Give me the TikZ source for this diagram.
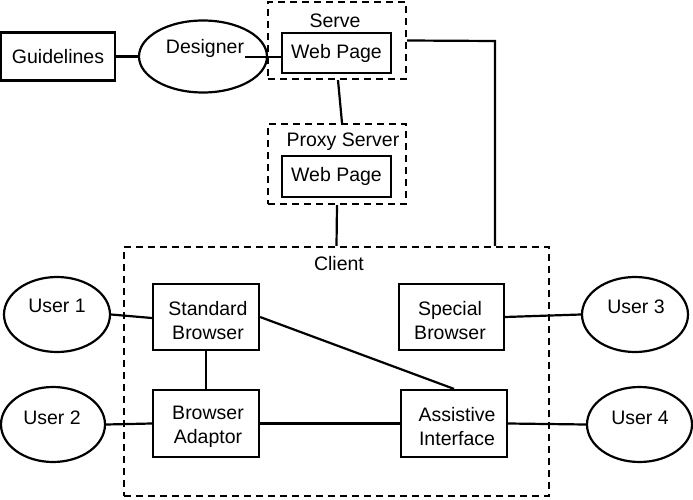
\documentclass[tikz,border=0pt]{standalone}
\usepackage{fontspec}
\setmainfont{Liberation Sans}
\usetikzlibrary{shapes.geometric,calc}
\begin{document}
\begin{tikzpicture}[x=1pt,y=-1pt,
  every node/.style={font=\fontsize{19.5}{24}\selectfont},
  box/.style={draw,line width=2.2pt,rectangle,inner sep=0pt,align=center},
  dbox/.style={draw,line width=2.2pt,rectangle,inner sep=0pt,dash pattern=on 7pt off 5pt},
  oval/.style={draw,line width=2.2pt,ellipse,inner sep=0pt},
  txt/.style={inner sep=0pt,align=center},
  conn/.style={line width=2.2pt}]
\useasboundingbox (0,0) rectangle (693,500);
% top
\node[box,minimum width=114pt,minimum height=48pt] (gl) at (58,56.5) {Guidelines};
\node[oval,minimum width=128pt,minimum height=72pt] (ds) at (203,56.5) {};
\node[txt] (dst) at (205,48) {Designer};
\node[dbox,minimum width=138pt,minimum height=77pt] (serve) at (337,40.5) {};
\node[txt] (servet) at (335,21) {Serve};
\node[box,minimum width=109pt,minimum height=40pt] (wp1) at (336.5,53) {Web Page};
\node[dbox,minimum width=138pt,minimum height=80pt] (proxy) at (337,164) {};
\node[txt] (proxyt) at (343,142) {Proxy Server};
\node[box,minimum width=109pt,minimum height=41pt] (wp2) at (336.5,176.5) {Web Page};
% client
\node[dbox,minimum width=425pt,minimum height=249pt] (client) at (336.5,371.5) {};
\node[txt] (clientt) at (339,264) {Client};
\node[box,minimum width=106pt,minimum height=66pt] (sb) at (206,317) {};
\node[txt] (sbt) at (208,321) {Standard\\Browser};
\node[box,minimum width=105pt,minimum height=66pt] (sp) at (451.5,317) {};
\node[txt] (spt) at (450,321) {Special\\Browser};
\node[box,minimum width=106pt,minimum height=67pt] (ba) at (206,423.5) {};
\node[txt] (bat) at (208,427) {Browser\\Adaptor};
\node[box,minimum width=106pt,minimum height=67pt] (ai) at (454,423.5) {};
\node[txt] (ait) at (457,427) {Assistive\\Interface};
% users
\node[oval,minimum width=106pt,minimum height=75pt] (u1) at (57,314.5) {};
\node[txt] (u1t) at (57,306) {User 1};
\node[oval,minimum width=104pt,minimum height=75pt] (u2) at (53,424.5) {};
\node[txt] (u2t) at (52,418) {User 2};
\node[oval,minimum width=106pt,minimum height=75pt] (u3) at (635,314.5) {};
\node[txt] (u3t) at (636,307) {User 3};
\node[oval,minimum width=105pt,minimum height=75pt] (u4) at (639.5,424.5) {};
\node[txt] (u4t) at (640,418) {User 4};
% connectors
\coordinate (dj) at (245,57);
\coordinate (rj) at (495,41);
\draw[conn] (gl.east) -- (ds.west);
\draw[conn] (dj) -- (dj -| wp1.west);
\draw[conn] ([xshift=1pt]serve.south) -- ([xshift=5pt]proxy.north);
\draw[conn] (proxy.south) -- (client.north);
\draw[conn] (serve.east) -- (rj) -- (rj |- client.north);
\draw[conn] (u1.east) -- ([yshift=-1pt]sb.west);
\draw[conn] (sp.east) -- (u3.west);
\draw[conn] (sb.south) -- (ba.north);
\draw[conn] (sb.east) -- (ai.north);
\draw[conn] (u2.east) -- (ba.west);
\draw[conn] (ba.east) -- (ai.west);
\draw[conn] (ai.east) -- (u4.west);
\end{tikzpicture}
\end{document}
